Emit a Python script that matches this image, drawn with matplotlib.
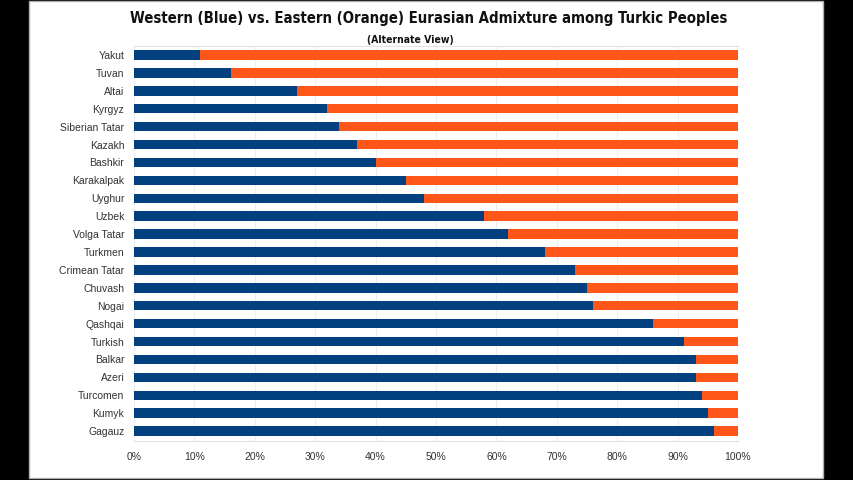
# Western vs Eastern admixture, stacked horizontal bars
import matplotlib
matplotlib.use('Agg')
from matplotlib import pyplot as plt
from matplotlib.patches import Rectangle
from matplotlib.ticker import PercentFormatter

peoples = ['Yakut', 'Tuvan', 'Altai', 'Kyrgyz', 'Siberian Tatar', 'Kazakh',
           'Bashkir', 'Karakalpak', 'Uyghur', 'Uzbek', 'Volga Tatar',
           'Turkmen', 'Crimean Tatar', 'Chuvash', 'Nogai', 'Qashqai',
           'Turkish', 'Balkar', 'Azeri', 'Turcomen', 'Kumyk', 'Gagauz']
western = [11, 16, 27, 32, 34, 37, 40, 45, 48, 58, 62,
           68, 73, 75, 76, 86, 91, 93, 93, 94, 95, 96]
eastern = [100 - w for w in western]

blue = '#02407f'
orange = '#fe5518'

fig = plt.figure(figsize=(8.54, 4.8), dpi=100, facecolor='black')
# white page between the black side strips
bg = fig.add_axes([0, 0, 1, 1], zorder=-5)
bg.set_xlim(0, 854)
bg.set_ylim(480, 0)
bg.axis('off')
bg.add_patch(Rectangle((29, 1), 794, 477, facecolor='white',
                       edgecolor='#b0b0b0', lw=1))

ax = fig.add_axes([134 / 854, 1 - 441 / 480, 604 / 854, (441 - 46) / 480])
ax.set_facecolor('white')
ypos = list(range(len(peoples)))
ax.barh(ypos, western, height=0.53, color=blue, zorder=3)
ax.barh(ypos, eastern, left=western, height=0.53, color=orange, zorder=3)

ax.set_xlim(0, 100)
ax.set_ylim(21.55, -0.5)
ax.set_xticks(range(0, 101, 10))
ax.xaxis.set_major_formatter(PercentFormatter(decimals=0))
ax.set_yticks(ypos)
ax.set_yticklabels(peoples)
ax.grid(axis='x', color='#eeeeee', lw=0.8, zorder=0)
ax.tick_params(length=0, labelsize=7.5, colors='#333333', pad=7)
for lab in ax.get_xticklabels() + ax.get_yticklabels():
    lab.set_family('Liberation Sans')
ax.tick_params(axis='x', pad=8)
for s in ['left', 'right']:
    ax.spines[s].set_visible(False)
for s in ['top', 'bottom']:
    ax.spines[s].set_color('#e2e2e2')
    ax.spines[s].set_linewidth(0.8)

fig.text(429 / 854, 1 - 18 / 480, 'Western (Blue) vs. Eastern (Orange) Eurasian Admixture among Turkic Peoples',
         ha='center', va='center', fontsize=10.7, weight='bold',
         family='DejaVu Sans', stretch='condensed', color='#111111')
fig.text(410 / 854, 1 - 40 / 480, '(Alternate View)', ha='center', va='center',
         fontsize=7.5, weight='bold', family='DejaVu Sans', stretch='condensed',
         color='#111111')

fig.savefig('out.png', dpi=100, facecolor='black')
